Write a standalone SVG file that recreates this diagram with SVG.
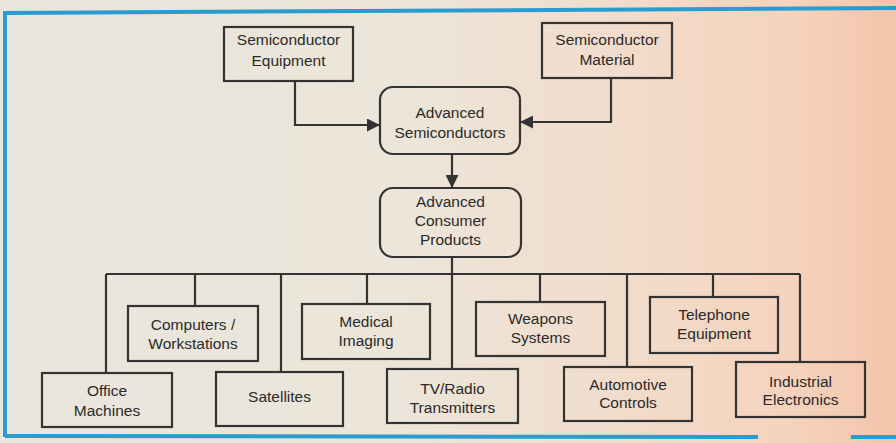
<svg xmlns="http://www.w3.org/2000/svg" width="896" height="443" viewBox="0 0 896 443">
<defs>
<linearGradient id="bg" x1="0" y1="0" x2="1" y2="0">
<stop offset="0" stop-color="#e8e6de"/>
<stop offset="0.45" stop-color="#ece5d9"/>
<stop offset="0.7" stop-color="#f1dccb"/>
<stop offset="0.88" stop-color="#f5d3bd"/>
<stop offset="1" stop-color="#f2c5ab"/>
</linearGradient>
<marker id="arr" viewBox="0 0 10 10" refX="10" refY="5" markerWidth="15" markerHeight="13" markerUnits="userSpaceOnUse" orient="auto">
<path d="M0,0 L10,5 L0,10 Z" fill="#333"/>
</marker>
<style>
.box{fill:none;stroke:#333;stroke-width:2.2}
.ln{fill:none;stroke:#333;stroke-width:2.2}
.t{font-family:"Liberation Sans",Arial,sans-serif;font-size:15.5px;fill:#2a2a2a;text-anchor:middle}
.frame{stroke:#2a9ccf;stroke-width:4;fill:none}
</style>
</defs>
<rect x="0" y="0" width="896" height="443" fill="url(#bg)"/>
<g id="frame">
<path class="frame" d="M5,437 L5,13 L896,8"/>
<path class="frame" d="M5,436 L758,437"/>
<path class="frame" d="M851,437 L896,437"/>
</g>
<g id="connectors">
<path class="ln" d="M295,81 L295,125 L380,125" marker-end="url(#arr)"/>
<path class="ln" d="M611,78 L611,122 L520,122" marker-end="url(#arr)"/>
<path class="ln" d="M452,154 L452,188" marker-end="url(#arr)"/>
<path class="ln" d="M452,257 L452,369"/>
<path class="ln" d="M106,274 L800,274"/>
<path class="ln" d="M106,274 L106,373"/>
<path class="ln" d="M195,274 L195,306"/>
<path class="ln" d="M281,274 L281,372"/>
<path class="ln" d="M367,274 L367,304"/>
<path class="ln" d="M540,274 L540,302"/>
<path class="ln" d="M627,274 L627,367"/>
<path class="ln" d="M713,274 L713,297"/>
<path class="ln" d="M800,274 L800,362"/>
</g>
<g id="semi-equipment">
<rect class="box" x="224" y="27" width="129" height="54"/>
<text class="t" x="288.5" y="45">Semiconductor</text>
<text class="t" x="288.5" y="66">Equipment</text>
</g>
<g id="semi-material">
<rect class="box" x="542" y="23" width="130" height="55"/>
<text class="t" x="607" y="45">Semiconductor</text>
<text class="t" x="607" y="65">Material</text>
</g>
<g id="adv-semi">
<rect class="box" x="380" y="87" width="140" height="67" rx="13"/>
<text class="t" x="450" y="118">Advanced</text>
<text class="t" x="450" y="138">Semiconductors</text>
</g>
<g id="adv-consumer">
<rect class="box" x="380" y="188" width="141" height="69" rx="13"/>
<text class="t" x="450.5" y="207">Advanced</text>
<text class="t" x="450.5" y="226">Consumer</text>
<text class="t" x="450.5" y="245">Products</text>
</g>
<g id="computers">
<rect class="box" x="128" y="306" width="130" height="55"/>
<text class="t" x="193" y="330">Computers /</text>
<text class="t" x="193" y="349">Workstations</text>
</g>
<g id="medical">
<rect class="box" x="302" y="304" width="128" height="55"/>
<text class="t" x="366" y="327">Medical</text>
<text class="t" x="366" y="346">Imaging</text>
</g>
<g id="weapons">
<rect class="box" x="476" y="302" width="129" height="54"/>
<text class="t" x="540.5" y="324">Weapons</text>
<text class="t" x="540.5" y="343">Systems</text>
</g>
<g id="telephone">
<rect class="box" x="650" y="297" width="128" height="56"/>
<text class="t" x="714" y="320">Telephone</text>
<text class="t" x="714" y="339">Equipment</text>
</g>
<g id="office">
<rect class="box" x="42" y="373" width="130" height="54"/>
<text class="t" x="107" y="396">Office</text>
<text class="t" x="107" y="416">Machines</text>
</g>
<g id="satellites">
<rect class="box" x="216" y="372" width="127" height="54"/>
<text class="t" x="279.5" y="402">Satellites</text>
</g>
<g id="tv-radio">
<rect class="box" x="387" y="369" width="131" height="54"/>
<text class="t" x="452.5" y="394">TV/Radio</text>
<text class="t" x="452.5" y="413">Transmitters</text>
</g>
<g id="automotive">
<rect class="box" x="564" y="367" width="128" height="54"/>
<text class="t" x="628" y="390">Automotive</text>
<text class="t" x="628" y="408">Controls</text>
</g>
<g id="industrial">
<rect class="box" x="736" y="362" width="129" height="55"/>
<text class="t" x="800.5" y="387">Industrial</text>
<text class="t" x="800.5" y="405">Electronics</text>
</g>
</svg>
